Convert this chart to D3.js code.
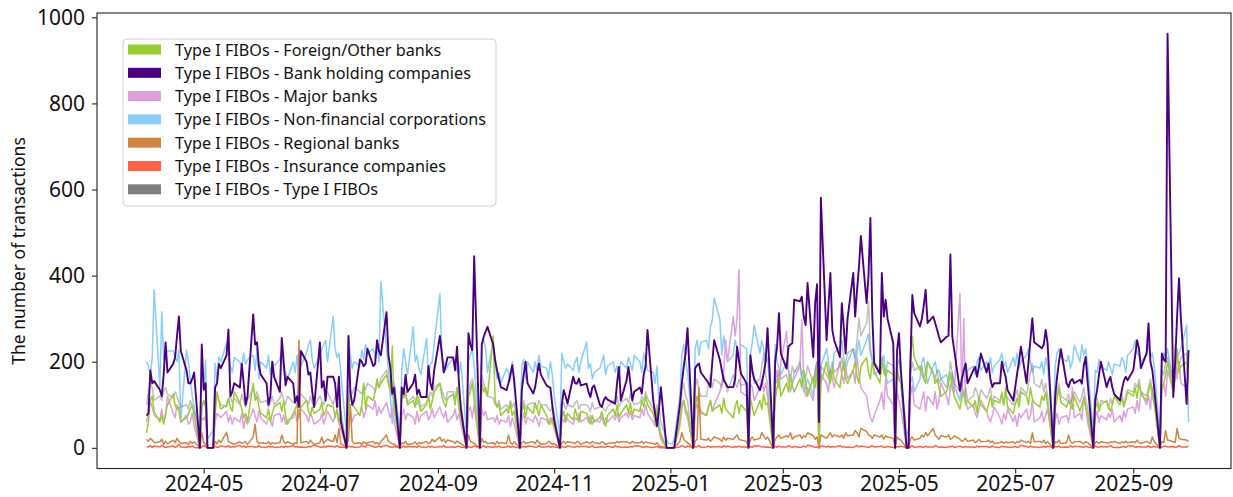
<!DOCTYPE html>
<html><head><meta charset="utf-8">
<script src="https://cdn.jsdelivr.net/npm/d3@7"></script>
<style>body{margin:0;background:#fff}svg{display:block}</style>
</head><body><svg id="chart" width="1233" height="497"></svg>
<script>
// ---- data: business days 2024-04-01 .. 2025-09-30 ----
const startDate = "2024-04-01";
const endDate = "2025-09-30";

const seriesNames = [
  "Type I FIBOs - Foreign/Other banks",
  "Type I FIBOs - Bank holding companies",
  "Type I FIBOs - Major banks",
  "Type I FIBOs - Non-financial corporations",
  "Type I FIBOs - Regional banks",
  "Type I FIBOs - Insurance companies",
  "Type I FIBOs - Type I FIBOs"
];
const seriesColors = ["#9acd32","#4b0082","#dda0dd","#87cefa","#cd853f","#ff6347","#808080"];

const foreignOther = [
35,60,110,120,85, 60,75,55,80,100, 125,100,90,95,60, 70,80,90,100,75, 0,95,110,95,0,
0,75,130,110,90, 100,115,95,85,130, 105,90,70,80,60, 150,110,120,95,80, 70,90,60,80,95,
105,85,110,75,55, 80,90,100,70,95, 110,85,75,95,80, 90,105,75,85,100, 95,70,90,60,75,
0,85,130,100,95, 75,100,150,90,120, 110,130,160,140,150, 170,150,130,236,90, 0,140,120,130,100,
110,95,125,105,85, 100,120,90,110,130, 150,120,105,95,115, 125,100,140,90,70, 0,120,130,150,110,
0,150,130,140,120, 260,110,95,100,75, 90,80,105,75,85, 0,85,100,70,95, 80,105,90,75,100,
75,60,55,70,50, 0,70,85,60,80, 65,90,75,60,85, 80,70,55,75,60, 70,85,65,50,75,
90,75,100,70,80, 100,80,105,75,90, 85,110,95,120,100, 80,60,90,45,30, 0,0,0,0,0,
60,100,110,90,80, 0,90,120,100,85, 75,95,110,85,90, 100,80,115,90,85, 70,95,110,80,100,
85,0,115,95,75, 110,90,125,100,105, 0,110,140,160,120, 150,130,170,145,130, 160,140,180,150,120,
165,140,190,0,150, 200,170,150,185,160, 140,175,200,160,150, 180,200,165,150,190, 210,175,160,200,180,
150,200,175,165,180, 170,0,190,160,150, 0,0,200,258,210, 180,190,160,150,200, 175,150,160,140,120,
130,150,175,140,120, 90,115,130,100,110, 95,110,80,120,100, 85,100,120,95,110, 105,125,100,140,95,
80,100,115,95,130, 120,100,140,115,105, 95,120,110,130,100, 0,90,115,140,105, 95,110,100,90,120,
85,100,115,95,80, 0,90,105,85,100, 110,95,85,100,120, 100,115,95,110,130, 120,140,115,150,125,
110,130,150,120,100, 0,140,150,170,200, 130,160,230,175,190,
200,155];

const bankHolding = [
75,80,180,150,155, 135,120,170,245,175, 195,210,260,305,225, 180,150,150,160,175, 0,240,135,150,0,
0,140,150,195,185, 215,275,120,130,150, 140,195,150,100,120, 310,240,245,190,170, 150,100,120,200,165,
130,255,200,145,165, 150,105,120,95,225, 200,170,175,130,95, 245,140,155,110,165, 165,150,95,165,60,
0,260,130,100,110, 205,200,190,195,230, 190,195,250,225,215, 315,215,185,125,140, 0,140,125,170,130,
150,170,125,135,118, 118,190,150,135,180, 260,220,175,190,210, 210,180,235,150,90, 0,266,240,227,445,
0,240,258,270,281, 240,204,180,160,141, 134,150,170,192,157, 0,134,170,200,150, 126,141,170,196,170,
145,142,140,100,64, 0,100,134,120,103, 165,150,149,161,145, 149,130,118,140,145, 100,95,110,118,112,
105,103,150,188,110, 157,188,150,110,130, 140,126,170,190,274, 110,79,50,90,141, 0,0,0,0,0,
100,150,188,220,278, 0,185,192,196,175, 157,150,141,200,250, 204,180,157,150,141, 141,160,235,204,173,
150,0,215,180,160, 134,150,173,200,278, 0,200,235,313,219, 184,235,240,243,344, 340,351,305,285,383,
211,336,380,60,581, 250,330,406,274,250, 211,336,280,219,300, 406,305,367,420,492, 336,400,534,305,196,
172,406,305,344,300, 243,0,227,266,180, 0,0,196,355,313, 282,300,330,367,290, 305,290,275,258,245,
258,260,449,258,227, 133,160,180,196,150, 180,188,165,190,219, 175,196,160,141,150, 150,200,180,165,134,
110,140,172,200,235, 150,200,250,301,245, 235,231,240,274,243, 0,120,165,200,229, 150,141,155,160,150,
158,149,190,211,155, 0,110,134,170,200, 141,155,165,140,125, 110,134,155,165,157, 180,215,250,230,185,
220,289,200,180,140, 0,219,205,200,962, 118,200,305,394,300,
102,227];

const majorBanks = [
60,80,110,95,75, 65,90,60,75,120, 80,70,100,85,60, 75,55,60,80,50, 0,70,65,75,0,
0,60,80,75,70, 85,60,75,55,70, 60,80,45,70,55, 90,75,60,85,70, 55,70,65,50,75,
80,60,75,55,65, 70,85,60,75,90, 75,60,80,70,55, 65,80,55,70,85, 60,75,90,55,45,
0,70,85,60,75, 80,95,70,85,100, 90,110,75,95,80, 105,85,70,90,60, 0,75,90,65,80,
70,55,85,60,75, 85,65,75,90,70, 95,80,70,85,60, 75,90,65,80,55, 0,85,95,70,100,
0,90,75,85,65, 70,60,75,55,65, 60,75,50,70,55, 0,65,80,55,70, 60,75,65,50,70,
65,55,70,60,45, 0,70,60,75,65, 55,70,65,80,60, 70,60,75,55,65, 60,75,55,70,60,
75,65,80,60,70, 80,70,85,65,75, 70,90,75,100,80, 60,50,70,40,20, 0,0,0,0,0,
50,90,110,80,70, 0,85,100,90,80, 75,95,110,85,100, 130,150,180,250,200, 305,260,300,414,130,
120,0,150,140,110, 140,160,130,150,120, 0,150,180,140,200, 270,180,130,150,160, 190,297,150,120,140,
110,160,200,0,170, 150,130,180,160,140, 200,170,150,190,160, 180,150,210,170,140, 120,90,70,60,75,
110,130,90,160,120, 100,0,130,110,90, 0,0,120,145,100, 90,110,130,85,120, 100,130,90,110,150,
120,100,140,160,130, 359,120,300,110,90, 100,80,70,90,110, 85,70,60,75,95, 70,55,80,65,90,
60,75,50,80,70, 90,65,75,110,60, 70,85,60,75,90, 0,65,80,55,70, 75,60,90,140,70,
80,65,120,95,60, 0,70,85,60,75, 65,80,70,90,60, 75,60,85,70,90, 95,80,110,85,130,
100,120,90,140,110, 0,130,150,120,180, 130,240,160,200,150,
140,100];

const nonFinancial = [
200,190,170,210,367, 141,316,205,215,225, 225,211,200,227,64, 227,200,157,120,95, 30,204,134,204,20,
40,196,157,211,200, 243,220,190,175,210, 200,185,220,195,205, 215,180,230,160,200, 185,215,170,200,190,
205,230,180,175,160, 200,175,215,160,190, 220,240,250,205,185, 215,230,240,250,200, 305,230,210,220,175,
30,258,215,185,200, 190,227,205,240,220, 230,210,240,200,386, 230,180,120,56,150, 40,180,230,200,170,
281,200,215,185,170, 254,160,195,200,240, 359,215,200,180,190, 210,195,180,170,200, 30,200,215,230,190,
30,240,250,230,175, 250,200,160,175,150, 185,175,155,200,140, 30,190,205,160,200, 175,200,180,215,190,
185,160,200,170,120, 30,220,200,185,195, 180,200,210,175,200, 246,185,195,160,175, 185,200,215,170,190,
200,175,190,165,200, 185,210,195,180,215, 200,175,220,200,180, 175,150,190,100,60, 20,10,10,10,20,
120,215,240,200,175, 30,230,250,215,245, 250,230,280,297,348, 297,215,260,230,200, 215,250,230,195,240,
230,30,215,245,285, 220,250,230,200,210, 30,240,200,185,170, 200,180,160,150,175, 190,155,130,140,160,
120,180,200,60,190, 230,200,160,175,220, 235,250,210,180,200, 230,200,220,250,215, 250,265,220,200,170,
180,200,215,170,150, 160,40,190,205,170, 30,40,150,165,130, 160,200,210,175,150, 190,200,175,180,160,
170,150,130,175,145, 110,160,175,150,180, 190,170,200,210,180, 200,185,210,175,190, 205,220,190,200,175,
210,190,220,185,200, 215,230,200,175,190, 185,200,170,210,190, 30,190,220,230,210, 200,215,185,200,238,
200,240,215,230,195, 30,180,175,205,190, 180,200,185,170,195, 190,210,200,175,215, 230,250,220,215,200,
215,240,210,220,190, 30,200,220,210,230, 150,200,210,220,230,
285,60];

const regionalBanks = [
20,15,22,18,12, 14,20,8,15,10, 18,12,22,15,10, 12,8,15,10,14, 0,35,12,8,0,
0,15,10,18,12, 36,15,12,10,8, 14,10,12,15,8, 25,55,15,10,12, 10,14,8,12,10,
12,30,15,10,14, 8,12,10,250,12, 15,10,18,12,8, 12,25,10,15,20, 14,30,12,45,10,
0,20,100,15,10, 12,8,14,10,12, 15,10,12,8,14, 30,15,12,10,8, 0,12,10,15,8,
10,14,8,12,10, 15,10,12,20,14, 25,15,20,12,18, 14,10,16,12,10, 0,30,15,12,10,
0,22,12,15,10, 12,8,15,10,12, 10,30,12,8,14, 0,12,15,10,12, 14,10,18,12,8,
10,15,12,8,10, 0,12,15,10,14, 12,10,15,12,8, 14,12,10,15,12, 10,14,12,8,10,
12,10,15,12,14, 14,12,10,15,12, 12,15,10,14,12, 10,8,12,5,3, 0,0,0,0,0,
15,35,20,15,12, 0,15,20,140,20, 18,22,15,20,25, 20,15,25,18,22, 20,25,30,20,18,
15,0,20,25,18, 22,35,28,20,25, 0,20,25,30,22, 28,25,35,20,25, 30,22,28,25,35,
28,20,25,0,30, 22,28,35,25,30, 25,30,22,35,28, 30,40,35,25,45, 38,30,28,22,30,
25,30,20,28,25, 22,0,25,20,18, 0,0,20,25,18, 22,30,25,35,28, 45,30,25,20,28,
25,30,20,22,28, 20,15,18,22,15, 18,12,15,20,14, 15,18,12,16,10, 12,15,10,14,12,
14,10,15,12,18, 12,15,10,35,14, 15,12,18,10,14, 0,14,12,18,10, 12,30,15,10,14,
15,12,10,14,12, 0,12,15,10,14, 12,10,14,12,15, 10,14,12,15,12, 14,12,18,12,10,
15,12,10,25,14, 0,15,12,40,18, 14,12,45,22,20,
18,15];

const insurance = [
3,2,5,1,4, 2,6,3,1,2, 4,1,3,8,2, 1,3,2,4,1, 0,2,5,3,0,
0,3,1,2,4, 2,5,1,3,2, 6,2,4,1,3, 3,1,2,5,2, 1,4,2,3,1,
2,3,1,4,2, 5,2,3,1,2, 1,3,2,4,6, 2,1,3,2,4, 3,2,5,1,2,
0,4,2,3,1, 2,5,3,2,8, 3,1,2,4,2, 6,3,2,1,3, 0,2,4,1,3,
2,3,1,5,2, 1,4,2,3,1, 3,2,6,1,2, 2,1,3,4,2, 0,3,1,2,4,
0,2,5,1,3, 1,3,2,4,1, 2,5,1,3,2, 0,2,3,1,4, 3,1,2,5,2,
2,4,1,3,2, 0,3,2,1,5, 1,2,4,2,3, 3,1,2,6,1, 2,3,1,2,4,
1,5,2,3,1, 2,1,3,2,4, 4,2,1,3,2, 1,2,3,1,0, 0,0,0,0,0,
2,5,3,1,4, 0,3,2,6,1, 2,4,1,3,2, 3,1,5,2,4, 1,3,2,4,2,
2,0,3,1,5, 4,2,3,1,2, 0,3,1,4,2, 2,5,3,1,3, 1,2,4,2,6,
3,1,2,0,4, 2,4,1,3,2, 5,2,3,1,2, 1,3,6,2,4, 2,1,3,5,2,
3,4,1,2,3, 1,0,3,2,4, 0,0,2,5,1, 3,2,1,4,2, 2,5,3,1,2,
1,3,2,4,1, 4,2,1,3,2, 2,1,4,2,3, 3,2,1,5,2, 1,4,2,3,1,
2,3,1,2,6, 3,1,4,2,2, 1,2,3,1,4, 0,3,2,4,1, 2,1,5,2,3,
3,2,1,4,2, 0,4,2,1,3, 2,3,5,2,1, 1,2,3,1,4, 4,1,2,3,2,
2,5,1,2,3, 0,2,3,4,2, 3,1,2,5,2,
2,4];

const typeI = [
100,130,150,140,110, 120,110,130,140,125, 115,130,120,105,95, 100,90,110,95,85, 0,90,110,100,0,
0,105,120,110,100, 95,110,120,105,115, 100,125,110,95,110, 140,120,130,115,105, 110,95,105,120,100,
115,130,110,100,120, 105,115,95,110,125, 110,100,120,105,95, 120,110,100,115,130, 100,120,110,95,85,
0,120,135,125,140, 130,125,145,135,150, 140,130,150,140,160, 180,150,140,120,110, 0,130,115,125,105,
120,110,100,115,95, 105,115,130,120,140, 150,135,120,110,130, 130,115,140,125,105, 0,130,150,160,140,
0,170,150,130,120, 115,100,95,110,90, 100,90,110,95,105, 0,95,110,90,100, 105,95,90,110,100,
100,90,85,95,80, 0,95,105,90,100, 95,105,110,90,100, 100,95,85,105,90, 95,100,90,85,95,
110,100,120,95,105, 115,105,125,110,100, 105,120,110,130,115, 90,80,100,60,30, 0,0,0,0,0,
70,130,150,120,110, 0,140,160,130,120, 120,150,170,140,160, 150,140,170,150,130, 170,150,140,160,145,
150,0,170,180,150, 160,190,220,170,150, 0,160,150,180,160, 170,150,160,190,175, 200,170,180,160,190,
150,180,200,0,190, 170,160,180,200,175, 190,210,180,200,220, 230,210,250,301,260, 290,340,230,210,200,
180,210,190,170,200, 190,0,180,160,150, 0,0,170,200,180, 190,170,160,180,200, 170,160,180,150,160,
140,160,200,170,150, 130,150,120,140,110, 120,140,130,110,135, 115,125,140,105,120, 110,130,100,125,115,
100,120,135,110,140, 125,150,175,196,150, 140,160,130,150,120, 0,110,130,150,120, 110,125,100,115,130,
105,120,140,110,95, 0,100,115,95,110, 105,90,115,100,120, 110,125,100,120,135, 130,150,140,160,130,
120,140,160,130,115, 0,180,170,200,210, 150,200,205,190,210,
220,150];

const xTickLabels = ["2024-05","2024-07","2024-09","2024-11","2025-01","2025-03","2025-05","2025-07","2025-09"];
const yTicks = [0,200,400,600,800,1000];
const yTitle = "The number of transactions";

// ---- build ----
const parse = d3.timeParse("%Y-%m-%d");
const t0 = parse(startDate), t1 = parse(endDate);
const dates = d3.timeDay.range(t0, d3.timeDay.offset(t1, 1)).filter(d => d.getDay() !== 0 && d.getDay() !== 6);

const seriesValues = [foreignOther, bankHolding, majorBanks, nonFinancial, regionalBanks, insurance, typeI];
const series = seriesNames.map((name, i) => ({
  name, color: seriesColors[i],
  points: dates.map((d, j) => ({date: d, v: seriesValues[i][j]})).filter(p => p.v !== undefined)
}));

const svg = d3.select("#chart");
const L = 97, R = 1231, T = 13, B = 468.5;
const DAY = 864e5;
const x = d3.scaleTime()
  .domain([new Date(t0.getTime() - 26.0 * DAY), new Date(t0.getTime() + 569.3 * DAY)])
  .range([L, R]);
const y = d3.scaleLinear().domain([-48, 1010]).range([B, T]);

const FONT = "'Noto Sans','Open Sans',sans-serif";

// lines (draw order: purple on top)
const drawOrder = [3, 2, 6, 0, 4, 5, 1];
const line = d3.line().x(p => x(p.date)).y(p => y(p.v));
const g = svg.append("g");
drawOrder.forEach(i => {
  const s = series[i];
  g.append("path").datum(s.points)
    .attr("fill", "none")
    .attr("stroke", s.color)
    .attr("stroke-opacity", i === 6 ? 0.5 : 1)
    .attr("stroke-width", i === 1 ? 1.9 : 1.5)
    .attr("stroke-linejoin", "round")
    .attr("d", line);
});

// frame
svg.append("rect").attr("x", L).attr("y", T).attr("width", R - L).attr("height", B - T)
  .attr("fill", "none").attr("stroke", "#222").attr("stroke-width", 1.1);

// axes
const xAxis = svg.append("g").attr("transform", `translate(0,${B})`)
  .call(d3.axisBottom(x).tickValues(xTickLabels.map(s => parse(s + "-01")))
    .tickFormat(d3.timeFormat("%Y-%m")).tickSize(5).tickPadding(3));
const yAxis = svg.append("g").attr("transform", `translate(${L},0)`)
  .call(d3.axisLeft(y).tickValues(yTicks).tickFormat(d3.format("d")).tickSize(5).tickPadding(7));
[xAxis, yAxis].forEach(a => {
  a.select(".domain").remove();
  a.selectAll(".tick line").attr("stroke", "#222").attr("stroke-width", 1.1);
  a.selectAll(".tick text").attr("fill", "#111").style("font-family", FONT).style("font-size", "21px");
});

svg.append("text")
  .attr("transform", "translate(25,251) rotate(-90)")
  .attr("text-anchor", "middle")
  .style("font-family", FONT).style("font-size", "17.5px").attr("fill", "#111")
  .text(yTitle);

// legend
const lg = svg.append("g");
lg.append("rect").attr("x", 123).attr("y", 39).attr("width", 373).attr("height", 167).attr("rx", 4)
  .attr("fill", "#fff").attr("fill-opacity", 0.8).attr("stroke", "#d0d0d0").attr("stroke-width", 1);
series.forEach((s, i) => {
  const cy = 49.5 + i * 23.3;
  lg.append("rect").attr("x", 128).attr("y", cy - 5).attr("width", 33).attr("height", 10).attr("fill", s.color);
  lg.append("text").attr("x", 175).attr("y", cy).attr("dominant-baseline", "central")
    .style("font-family", FONT).style("font-size", "16.2px").attr("fill", "#111").text(s.name);
});
</script></body></html>
